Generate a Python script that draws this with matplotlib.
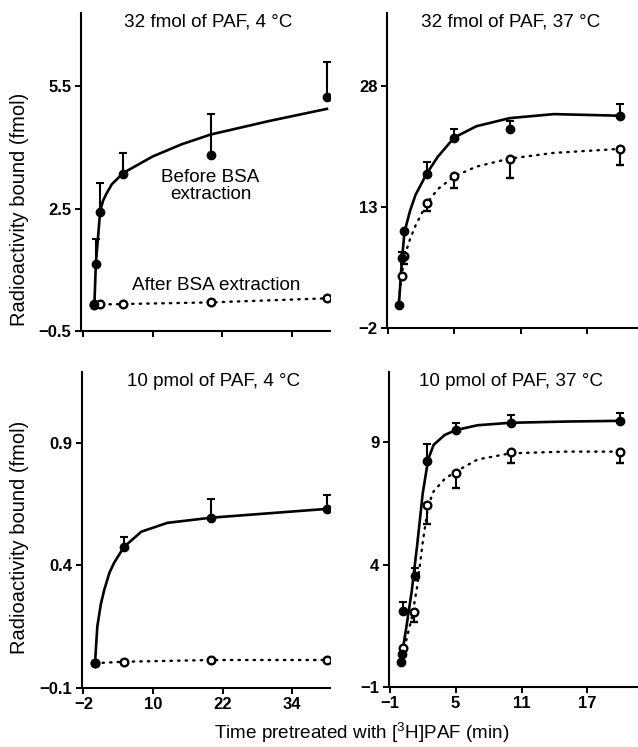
import matplotlib
matplotlib.use("Agg")
import matplotlib.pyplot as plt

plt.rcParams['font.family'] = ['Liberation Sans', 'DejaVu Sans']
plt.rcParams['mathtext.default'] = 'regular'

# ---- 32 fmol, 4 C ----
tl_t_filled = [0, 0.25, 1, 5, 20, 40]
tl_filled = [0.15, 1.15, 2.43, 3.35, 3.82, 5.24]
tl_filled_err = [0, 0.6, 0.7, 0.52, 1.0, 0.85]
tl_t_open = [0, 1, 5, 20, 40]
tl_open = [0.13, 0.15, 0.16, 0.2, 0.3]
tl_curve_t = [0, 0.25, 1, 1.5, 2, 3, 5, 10, 15, 20, 30, 40]
tl_curve_solid = [0.15, 1.15, 2.45, 2.7, 2.85, 3.1, 3.38, 3.78, 4.08, 4.32, 4.65, 4.95]
tl_curve_dot_t = [0, 1, 5, 20, 40]
tl_curve_dot = [0.13, 0.15, 0.16, 0.2, 0.3]

# ---- 32 fmol, 37 C ----
tr_t_filled = [0, 0.25, 0.5, 2.5, 5, 10, 20]
tr_filled = [0.9, 6.7, 10.0, 17.1, 21.6, 22.6, 24.3]
tr_filled_err = [0, 0.8, 0, 1.5, 1.0, 1.0, 1.5]
tr_t_open = [0.25, 0.5, 2.5, 5, 10, 20]
tr_open = [4.5, 6.9, 13.5, 16.8, 19.0, 20.2]
tr_open_err = [0, 0.9, 1.0, 1.5, 2.4, 2.0]
tr_curve_t = [0, 0.25, 0.5, 1, 1.5, 2.5, 3.5, 5, 7, 10, 14, 20]
tr_curve_solid = [0.9, 6.0, 9.9, 12.5, 14.5, 17.1, 19.2, 21.6, 23.0, 24.0, 24.5, 24.3]
tr_curve_dot = [1.5, 4.5, 6.9, 9.0, 10.7, 13.4, 15.2, 16.8, 18.0, 19.0, 19.7, 20.2]

# ---- 10 pmol, 4 C ----
bl_t_filled = [0, 5, 20, 40]
bl_filled = [0.0, 0.475, 0.594, 0.63]
bl_filled_err = [0, 0.04, 0.075, 0.055]
bl_t_open = [0, 5, 20, 40]
bl_open = [0.0, 0.006, 0.013, 0.013]
bl_curve_t = [0, 0.4, 1, 1.6, 2.5, 3.3, 5, 8, 12.5, 20, 30, 40]
bl_curve_solid = [0.0, 0.15, 0.24, 0.3, 0.37, 0.41, 0.475, 0.537, 0.573, 0.594, 0.612, 0.63]
bl_curve_dot_t = [0, 5, 20, 40]
bl_curve_dot = [0.0, 0.006, 0.013, 0.013]

# ---- 10 pmol, 37 C ----
br_t_filled = [0, 0.15, 0.25, 1.3, 2.4, 5, 10, 20]
br_filled = [0.0, 0.35, 2.1, 3.55, 8.25, 9.5, 9.8, 9.88]
br_filled_err = [0, 0, 0.35, 0.3, 0.7, 0.3, 0.3, 0.3]
br_t_open = [0.25, 1.25, 2.4, 5, 10, 20]
br_open = [0.57, 2.05, 6.45, 7.75, 8.6, 8.6]
br_open_err = [0.3, 0.4, 0.8, 0.6, 0.45, 0.45]
br_curve_t = [0, 0.5, 1, 1.5, 2, 2.5, 3, 4, 5, 7, 10, 15, 20]
br_curve_solid = [0.0, 1.4, 2.9, 4.8, 6.9, 8.3, 8.9, 9.3, 9.5, 9.7, 9.8, 9.85, 9.88]
br_curve_dot = [0.0, 0.9, 1.8, 3.1, 4.9, 6.4, 7.0, 7.5, 7.8, 8.3, 8.55, 8.62, 8.62]

titles = ["32 fmol of PAF, 4 \u00b0C", "32 fmol of PAF, 37 \u00b0C",
          "10 pmol of PAF, 4 \u00b0C", "10 pmol of PAF, 37 \u00b0C"]

fig = plt.figure(figsize=(6.38, 7.47), dpi=100)
# [left, bottom, width, height] in figure fraction
ax_tl = fig.add_axes([0.127, 0.557, 0.390, 0.426])
ax_tr = fig.add_axes([0.607, 0.5605, 0.393, 0.422])
ax_bl = fig.add_axes([0.128, 0.0794, 0.389, 0.423])
ax_br = fig.add_axes([0.610, 0.0807, 0.390, 0.4217])

def style(ax, xlim, ylim, xticks, yticks, show_xlabels):
    ax.set_xlim(*xlim)
    ax.set_ylim(*ylim)
    ax.set_xticks(xticks)
    ax.set_yticks(yticks)
    for s in ['top', 'right']:
        ax.spines[s].set_visible(False)
    for s in ['left', 'bottom']:
        ax.spines[s].set_linewidth(1.5)
    ax.tick_params(direction='out', length=4, width=1.4, labelsize=12, pad=3)
    for lab in ax.get_yticklabels() + ax.get_xticklabels():
        lab.set_fontweight('bold')
    if not show_xlabels:
        ax.set_xticklabels([])

def draw(ax, ct, solid, dt, dot, tf, yf, ef, to, yo, eo):
    ax.plot(ct, solid, color='black', lw=1.9, zorder=2)
    ax.plot(dt, dot, color='black', lw=1.7, linestyle=(0, (0.6, 2.6)),
            dash_capstyle='round', zorder=2)
    ax.errorbar(tf, yf, yerr=[[0] * len(ef), ef], fmt='o', color='black',
                ms=6, elinewidth=1.5, capsize=3, capthick=1.5, zorder=4)
    if eo is None:
        eo = [0] * len(yo)
    ax.errorbar(to, yo, yerr=[eo, [0] * len(eo)], fmt='o', color='black',
                mfc='white', mec='black', mew=1.7, ms=5.5, elinewidth=1.5,
                capsize=3, capthick=1.5, zorder=3)

draw(ax_tl, tl_curve_t, tl_curve_solid, tl_curve_dot_t, tl_curve_dot,
     tl_t_filled, tl_filled, tl_filled_err, tl_t_open, tl_open, None)
draw(ax_tr, tr_curve_t, tr_curve_solid, tr_curve_t, tr_curve_dot,
     tr_t_filled, tr_filled, tr_filled_err, tr_t_open, tr_open, tr_open_err)
draw(ax_bl, bl_curve_t, bl_curve_solid, bl_curve_dot_t, bl_curve_dot,
     bl_t_filled, bl_filled, bl_filled_err, bl_t_open, bl_open, None)
draw(ax_br, br_curve_t, br_curve_solid, br_curve_t, br_curve_dot,
     br_t_filled, br_filled, br_filled_err, br_t_open, br_open, br_open_err)

style(ax_tl, (-2.3, 40.5), (-0.5, 7.31), [-2, 10, 22, 34], [-0.5, 2.5, 5.5], False)
style(ax_tr, (-1.05, 21.6), (-2, 37.0), [-1, 5, 11, 17], [-2, 13, 28], False)
style(ax_bl, (-2.3, 40.5), (-0.1, 1.19), [-2, 10, 22, 34], [-0.1, 0.4, 0.9], True)
style(ax_br, (-1.05, 21.6), (-1, 11.89), [-1, 5, 11, 17], [-1, 4, 9], True)

title_pos = [(ax_tl, 0.51, 0.972), (ax_tr, 0.49, 0.972),
             (ax_bl, 0.53, 0.968), (ax_br, 0.49, 0.968)]
for (ax, x, y), t in zip(title_pos, titles):
    ax.text(x, y, t, transform=ax.transAxes, ha='center', va='center', fontsize=13.6)

ax_tl.text(20, 3.06, "Before BSA\nextraction", ha='center', va='center',
           fontsize=13.6, linespacing=1.0)
ax_tl.text(20.9, 0.62, "After BSA extraction", ha='center', va='center', fontsize=13.6)

fig.text(0.030, 0.72, "Radioactivity bound (fmol)", rotation=90,
         ha='center', va='center', fontsize=14.5)
fig.text(0.030, 0.28, "Radioactivity bound (fmol)", rotation=90,
         ha='center', va='center', fontsize=14.5)
fig.text(0.567, 0.019, "Time pretreated with [$^3$H]PAF (min)",
         ha='center', va='center', fontsize=13.6)

fig.savefig("out.png", dpi=100)
